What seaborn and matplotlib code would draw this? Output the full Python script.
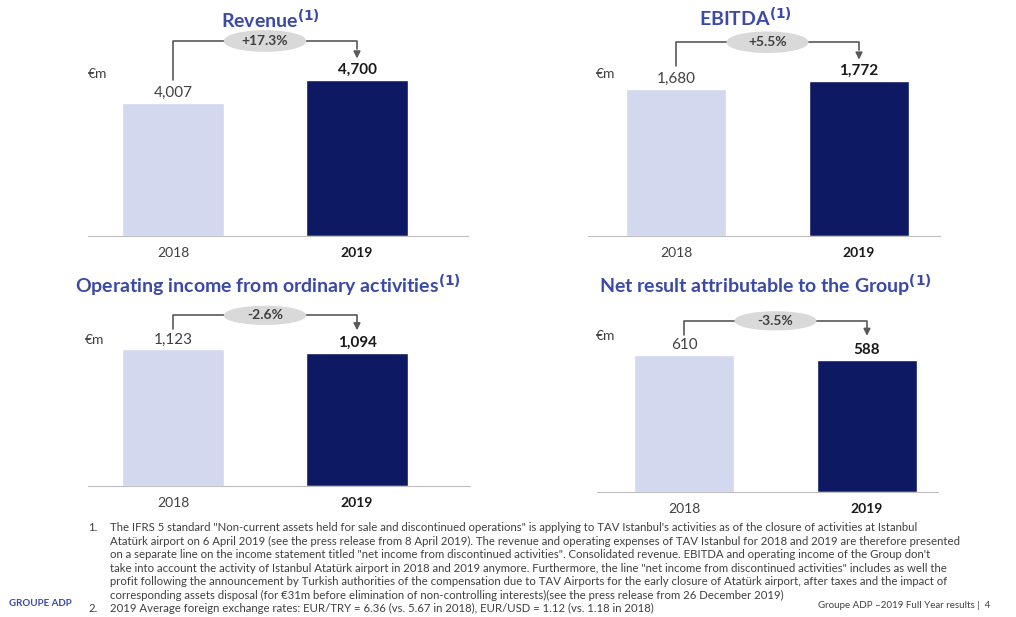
import numpy as np
import pandas as pd
import seaborn as sns
import matplotlib.pyplot as plt
from matplotlib.patches import Ellipse

sns.set_style("white")
plt.rcParams['font.family'] = ['Lato', 'DejaVu Sans']

years = ["2018", "2019"]
titles = ["Revenue", "EBITDA", "Operating income from ordinary activities", "Net result attributable to the Group"]
vals_2018 = [4007, 1680, 1123, 610]
vals_2019 = [4700, 1772, 1094, 588]
changes = ["+17.3%", "+5.5%", "-2.6%", "-3.5%"]

W, H = 1016, 617
LIGHT, DARK, BLUE, GREY = "#d2d8ee", "#0d1a63", "#3a4aa6", "#404040"

# panel geometry in pixels: left, right, baseline, top pixel of 2019 bar, centre of bar 2018, centre of bar 2019
panels = [
    (88, 468, 236, 80, 173, 357),
    (588, 940, 236, 81, 676, 859),
    (88, 470, 486, 353, 173, 357),
    (597, 938, 492, 360, 684, 867),
]
title_pos = [(270, 20), (745, 18), (268, 286), (765, 286)]
unit_pos = [(88, 74), (596, 74), (85, 340), (596, 336)]

fig = plt.figure(figsize=(W / 100, H / 100), dpi=100)

for i, (l, r, base, top19, c0, c1) in enumerate(panels):
    top_px = base - 200 if i < 2 else base - 185
    ax = fig.add_axes([l / W, 1 - base / H, (r - l) / W, (base - top_px) / H])
    df = pd.DataFrame({"year": years, "value": [vals_2018[i], vals_2019[i]]})
    sns.barplot(data=df, x="year", y="value", hue="year", palette=[LIGHT, DARK],
                width=0.55, saturation=1, legend=False, ax=ax)
    unit = (c1 - c0)
    ax.set_xlim(-(c0 - l) / unit, 1 + (r - c1) / unit)
    scale = (base - top19) / vals_2019[i]
    ax.set_ylim(0, (base - top_px) / scale)
    for s in ["top", "left", "right"]:
        ax.spines[s].set_visible(False)
    ax.spines["bottom"].set_color("#bfbfbf")
    ax.set_yticks([])
    ax.set_xlabel("")
    ax.set_ylabel("")
    ax.tick_params(axis="x", length=0, pad=8, labelsize=10, labelcolor=GREY)
    ax.get_xticklabels()[1].set_fontweight("bold")
    ax.get_xticklabels()[1].set_color("#1a1a1a")
    v0, v1 = vals_2018[i], vals_2019[i]
    vmax = max(v0, v1)
    ax.text(0, v0 + vmax * 0.02, f"{v0:,}", ha="center", va="bottom", fontsize=11, color=GREY)
    ax.text(1, v1 + vmax * 0.02, f"{v1:,}", ha="center", va="bottom", fontsize=11,
            color="#1a1a1a", fontweight="bold")
    yb = vmax * 1.25
    ax.plot([0, 0, 1, 1], [v0 + vmax * 0.15, yb, yb, vmax * 1.2], color="#595959", lw=1.2, clip_on=False)
    ax.annotate("", xy=(1, vmax * 1.12), xytext=(1, vmax * 1.2),
                arrowprops=dict(arrowstyle="-|>", color="#595959", lw=1.2), annotation_clip=False)
    ax.add_patch(Ellipse((0.5, yb), 0.44, vmax * 0.13, color="#d9d9d9", clip_on=False, zorder=3))
    ax.text(0.5, yb, changes[i], ha="center", va="center", fontsize=10, fontweight="bold",
            color="#404040", zorder=4)

for (x, y), t in zip(title_pos, titles):
    fig.text(x / W, 1 - y / H, t + r"$^{\mathbf{(1)}}$", ha="center", va="center",
             fontsize=14, fontweight="bold", color=BLUE)
for x, y in unit_pos:
    fig.text(x / W, 1 - y / H, "€m", fontsize=10, color=GREY, va="center")

note1 = ("The IFRS 5 standard \"Non-current assets held for sale and discontinued operations\" is applying to TAV Istanbul's activities as of the closure of activities at Istanbul\n"
         "Atatürk airport on 6 April 2019 (see the press release from 8 April 2019). The revenue and operating expenses of TAV Istanbul for 2018 and 2019 are therefore presented\n"
         "on a separate line on the income statement titled \"net income from discontinued activities\". Consolidated revenue. EBITDA and operating income of the Group don't\n"
         "take into account the activity of Istanbul Atatürk airport in 2018 and 2019 anymore. Furthermore, the line \"net income from discontinued activities\" includes as well the\n"
         "profit following the announcement by Turkish authorities of the compensation due to TAV Airports for the early closure of Atatürk airport, after taxes and the impact of\n"
         "corresponding assets disposal (for €31m before elimination of non-controlling interests)(see the press release from 26 December 2019)")
note2 = "2019 Average foreign exchange rates: EUR/TRY = 6.36 (vs. 5.67 in 2018), EUR/USD = 1.12 (vs. 1.18 in 2018)"
fig.text(88 / W, 1 - 522 / H, "1.", fontsize=8.2, color=GREY, va="top")
fig.text(110 / W, 1 - 522 / H, note1, fontsize=8.2, color=GREY, va="top", linespacing=1.28)
fig.text(88 / W, 1 - 603 / H, "2.", fontsize=8.2, color=GREY, va="top")
fig.text(110 / W, 1 - 603 / H, note2, fontsize=8.2, color=GREY, va="top")
fig.text(818 / W, 1 - 606 / H, "Groupe ADP –2019 Full Year results |  4", fontsize=7, color=GREY, va="center")
fig.text(40 / W, 1 - 603 / H, "GROUPE ADP", fontsize=7, color=BLUE, fontweight="bold", ha="center", va="center")

fig.savefig("out.png", dpi=100)
